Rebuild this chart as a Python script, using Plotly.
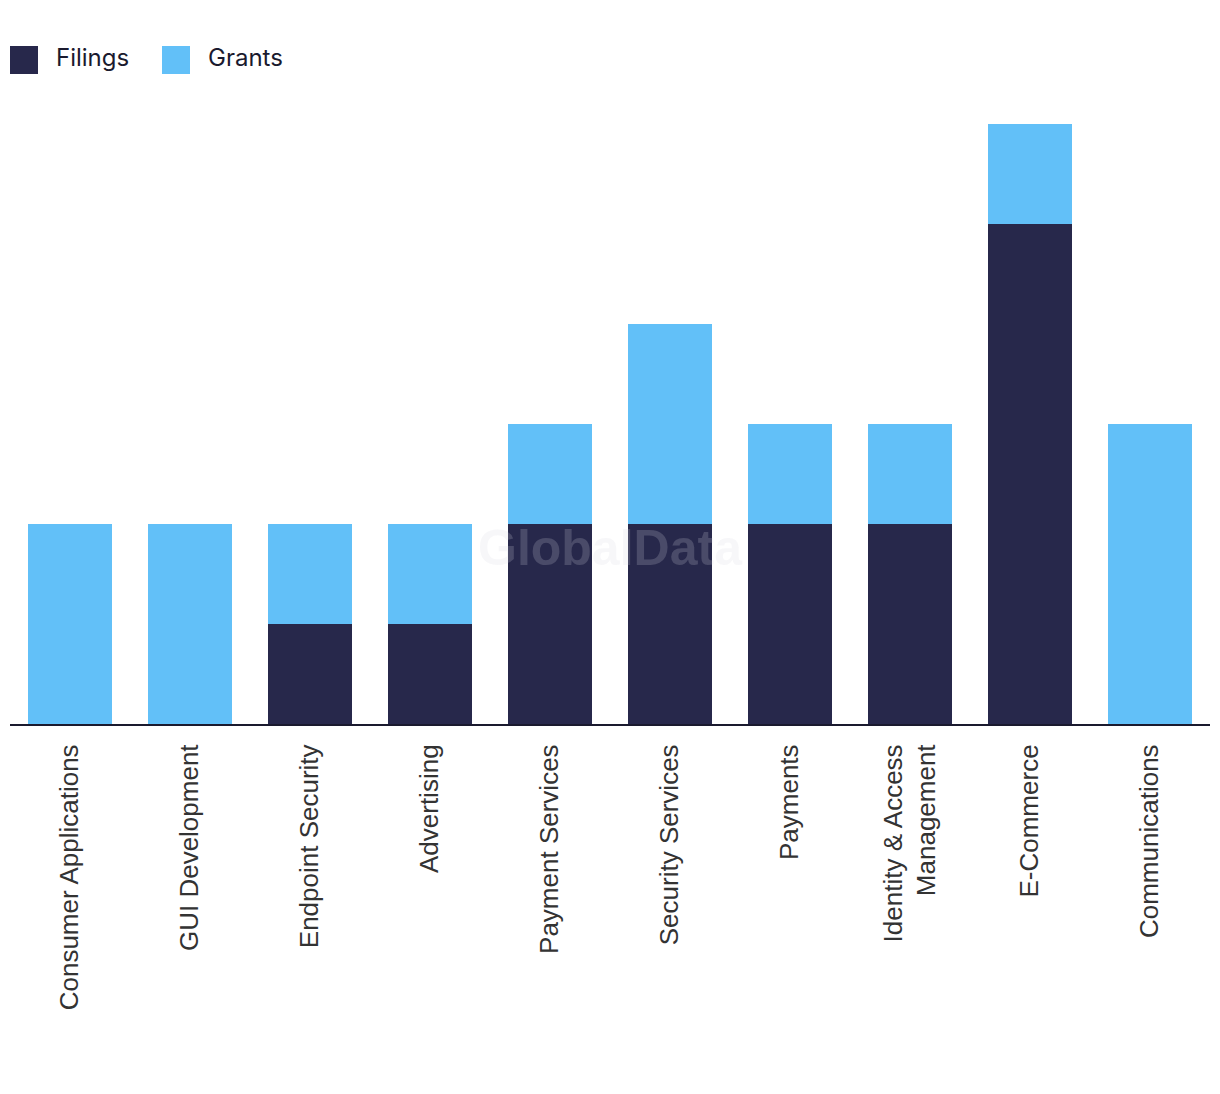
import plotly.graph_objects as go

categories = ["Consumer Applications", "GUI Development", "Endpoint Security", "Advertising",
              "Payment Services", "Security Services", "Payments",
              "Identity & Access<br>Management", "E-Commerce", "Communications"]
filings = [0, 0, 1, 1, 2, 2, 2, 2, 5, 0]
grants = [2, 2, 1, 1, 1, 2, 1, 1, 1, 3]
series_names = ["Filings", "Grants"]
series_colors = ["#27284b", "#62c0f8"]

fig = go.Figure()
fig.add_trace(go.Bar(name=series_names[0], x=categories, y=filings, marker_color=series_colors[0],
                     marker_line_width=0))
fig.add_trace(go.Bar(name=series_names[1], x=categories, y=grants, marker_color=series_colors[1],
                     marker_line_width=0))

# custom legend (square swatches + labels) in pixel-based paper positions
W, H = 1220, 1094
ml, mr, mt, mb = 10, 10, 124, 370
pw, ph = W - ml - mr, H - mt - mb

def px(x):
    return (x - ml) / pw

def py(y):
    return (H - mb - y) / ph

shapes = []
annotations = []
legend_x = [10, 162]
for name, color, lx in zip(series_names, series_colors, legend_x):
    shapes.append(dict(type="rect", xref="paper", yref="paper",
                       x0=px(lx), x1=px(lx + 28), y0=py(74), y1=py(46),
                       fillcolor=color, line_width=0))
    annotations.append(dict(text=name, xref="paper", yref="paper", x=px(lx + 44), y=py(58),
                            xanchor="left", yanchor="middle", showarrow=False,
                            font=dict(family="Inter, Arial", size=24, color="#1a1a2e")))

annotations.append(dict(text="<b>GlobalData</b>", x=0.5, y=py(548), xref="paper", yref="paper",
                        xanchor="center", yanchor="middle", showarrow=False,
                        font=dict(family="Liberation Sans, Arial", size=50,
                                  color="rgba(215,215,225,0.2)")))

fig.update_layout(
    barmode="stack",
    bargap=0.3,
    width=W, height=H,
    margin=dict(l=ml, r=mr, t=mt, b=mb),
    plot_bgcolor="white", paper_bgcolor="white",
    showlegend=False,
    xaxis=dict(tickangle=-90, tickfont=dict(family="Liberation Sans, Arial", size=26, color="#333333"),
               showline=True, linecolor="#1a1a2e", linewidth=2, ticks="", showgrid=False,
               ticklabelstandoff=8),
    yaxis=dict(range=[0, 6], visible=False, showgrid=False),
    shapes=shapes,
    annotations=annotations,
)
fig.write_html("out.html")
